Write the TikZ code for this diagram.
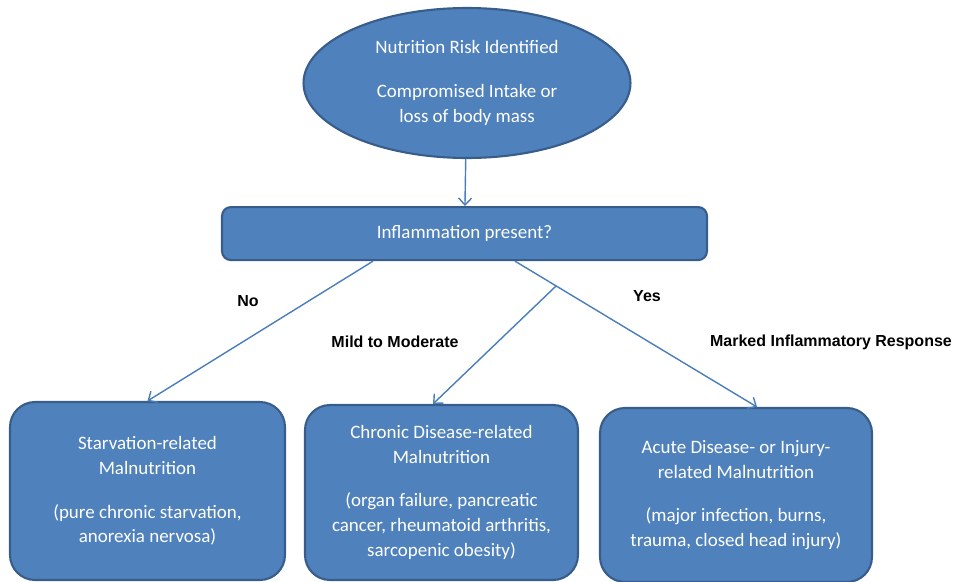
\documentclass[tikz,border=0pt]{standalone}
\usepackage{fontspec}
\setmainfont{Carlito}
\newfontfamily\labelfont{Liberation Sans}
\usepackage{tikz}
\usetikzlibrary{calc,arrows.meta}
\usetikzlibrary{positioning}
\usetikzlibrary{shapes.geometric}
\definecolor{box-fill}{HTML}{4F81BD}
\definecolor{box-line}{HTML}{385D8A}
\definecolor{link-line}{HTML}{4A7EBB}

\begin{document}
\begin{tikzpicture}[
    x=0.02cm, y=-0.02cm,
    node distance=0.94cm,
    font=\fontsize{10.8}{14.2}\selectfont,
    >={Straight Barb[length=1.4mm, width=2.6mm]}
  ]

  % Styles for the flow chart
  \tikzset{
    start/.style={ellipse, draw=box-line, fill=box-fill, line width=1.2pt, text=white, align=center, minimum width=6.54cm, minimum height=3.0cm, inner sep=0pt},
    question/.style={draw=box-line, fill=box-fill, line width=1.2pt, rounded corners=5pt, text=white, align=center, minimum width=9.7cm, minimum height=1.06cm},
    outcome/.style={draw=box-line, fill=box-fill, line width=1.2pt, rounded corners=0.5cm, text=white, align=center, minimum width=5.46cm, minimum height=3.5cm},
    link/.style={->, draw=link-line, line width=0.8pt},
    branch/.style={font=\labelfont\bfseries\fontsize{9.1}{11}\selectfont, text=black}
  }

  % page frame
  \useasboundingbox (0,0) rectangle (961,582);

  % Top of the chart
  \node (risk) [start] at (467,83) {Nutrition Risk Identified\\[0.37cm] Compromised Intake or\\ loss of body mass};
  \node (inflam) [question, below=of risk, xshift=-0.05cm] {Inflammation present?};

  % The three kinds of malnutrition
  \node (starve) [outcome, minimum width=5.5cm, minimum height=3.56cm] at (147.5,491) {Starvation-related\\ Malnutrition\\[0.37cm] (pure chronic starvation,\\ anorexia nervosa)};
  \node (chronic) [outcome] at (441.5,492.5) {Chronic Disease-related\\ Malnutrition\\[0.37cm] (organ failure, pancreatic\\ cancer, rheumatoid arthritis,\\ sarcopenic obesity)};
  \node (acute) [outcome, minimum width=5.44cm, minimum height=3.48cm] at (736,495) {Acute Disease- or Injury-\\ related Malnutrition\\[0.37cm] (major infection, burns,\\ trauma, closed head injury)};

  % Connectors
  \draw[link] (risk) -- (inflam);
  \draw[link] ([xshift=-1.83cm]inflam.south) -- (starve.north);
  \draw[link] ([xshift=1.01cm]inflam.south) -- ([xshift=0.42cm]acute.north);
  \coordinate (split) at ($([xshift=1.01cm]inflam.south)!0.17!([xshift=0.42cm]acute.north)$);
  \draw[link] (split) -- ([xshift=-0.17cm]chronic.north);

  % Branch labels
  \node (no) [branch] at (248,301) {No};
  \node (yes) [branch] at (647,296) {Yes};
  \node (mild) [branch] at (395,342) {Mild to Moderate};
  \node (marked) [branch] at (831,342) {Marked Inflammatory Response};

\end{tikzpicture}
\end{document}
